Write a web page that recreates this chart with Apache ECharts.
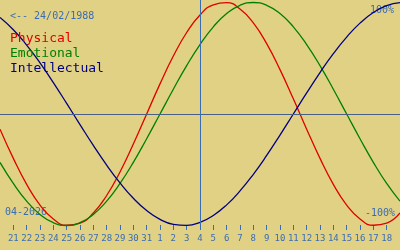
<!DOCTYPE html>
<html>
<head>
<meta charset="utf-8">
<script src="https://cdn.jsdelivr.net/npm/echarts@6/dist/echarts.min.js"></script>
<style>
html,body{margin:0;padding:0;background:#e0d184;}
#c{width:400px;height:250px;}
</style>
</head>
<body>
<div id="c"></div>
<script>
// Day labels (20 Mar .. 19 Apr)
var days = ["20","21","22","23","24","25","26","27","28","29","30","31","1","2","3","4","5","6","7","8","9","10","11","12","13","14","15","16","17","18","19"];
// Biorhythm values in percent, one per day
var physical = [-13.6,-39.8,-63.1,-81.7,-94.2,-99.8,-97.9,-88.8,-73.1,-52.0,-27.0,0,27.0,52.0,73.1,88.8,97.9,99.8,94.2,81.7,63.1,39.8,13.6,-13.6,-39.8,-63.1,-81.7,-94.2,-99.8,-97.9,-88.8];
var emotional = [-43.4,-62.3,-78.2,-90.1,-97.5,-100,-97.5,-90.1,-78.2,-62.3,-43.4,-22.2,0,22.2,43.4,62.3,78.2,90.1,97.5,100,97.5,90.1,78.2,62.3,43.4,22.2,0,-22.2,-43.4,-62.3,-78.2];
var intellectual = [86.6,75.6,61.8,45.8,28.2,9.5,-9.5,-28.2,-45.8,-61.8,-75.6,-86.6,-94.5,-99.0,-99.9,-97.2,-91.0,-81.5,-69.0,-54.1,-37.2,-18.9,0,18.9,37.2,54.1,69.0,81.5,91.0,97.2,99.9];
var seriesNames = ["Physical","Emotional","Intellectual"];
var todayLabel = "4";
var birthText = "<-- 24/02/1988";
var monthText = "04-2026";
var topText = "100%";
var bottomText = "-100%";

var BLUE = "#3a6cb4";
var COLORS = ["#e00000","#008000","#000080"];
var FONT = "DejaVu Sans Mono";

var chart = echarts.init(document.getElementById('c'), null, {renderer:'canvas'});
var lastIdx = days.length - 1;
function inner(i){ return i > 0 && i < lastIdx; }

chart.setOption({
  backgroundColor: '#e0d184',
  animation: false,
  grid: {left: 0, right: 0, top: 0, bottom: 20, containLabel: false},
  legend: {
    orient: 'vertical', left: 0, top: 27, itemWidth: 0, itemHeight: 13, itemGap: 2,
    icon: 'rect', selectedMode: false,
    textStyle: {fontFamily: FONT, fontSize: 13},
    data: seriesNames.map(function(n, i){ return {name: n, textStyle: {color: COLORS[i]}}; })
  },
  xAxis: {
    type: 'category', data: days, boundaryGap: false,
    axisLine: {show: false, onZero: false},
    axisTick: {show: true, inside: true, length: 5, interval: function(i){ return inner(i); }, lineStyle: {color: BLUE, width: 1}},
    axisLabel: {show: true, interval: function(i){ return inner(i); }, margin: 4, color: BLUE, fontFamily: FONT, fontSize: 9},
    splitLine: {show: false}
  },
  yAxis: {
    type: 'value', min: -104.04, max: 102.24, show: false, splitLine: {show: false}
  },
  graphic: [
    {type: 'text', left: 10, top: 11, style: {text: birthText, fill: BLUE, font: '10px ' + FONT}},
    {type: 'text', left: 5, top: 207, style: {text: monthText, fill: BLUE, font: '10px ' + FONT}},
    {type: 'text', right: 6, top: 5, style: {text: topText, fill: BLUE, font: '10px ' + FONT}},
    {type: 'text', right: 5, top: 208, style: {text: bottomText, fill: BLUE, font: '10px ' + FONT}}
  ],
  series: [
    {name: seriesNames[0], type: 'line', data: physical, smooth: true, showSymbol: false, lineStyle: {color: COLORS[0], width: 1.3}, itemStyle: {color: COLORS[0]},
     markLine: {silent: true, symbol: 'none', label: {show: false},
       data: [{yAxis: 0, lineStyle: {color: '#4a5f88', width: 1, type: 'solid'}}, {xAxis: todayLabel, lineStyle: {color: BLUE, width: 1, type: 'solid'}}]}},
    {name: seriesNames[1], type: 'line', data: emotional, smooth: true, showSymbol: false, lineStyle: {color: COLORS[1], width: 1.3}, itemStyle: {color: COLORS[1]}},
    {name: seriesNames[2], type: 'line', data: intellectual, smooth: true, showSymbol: false, lineStyle: {color: COLORS[2], width: 1.3}, itemStyle: {color: COLORS[2]}}
  ]
});
</script>
</body>
</html>
